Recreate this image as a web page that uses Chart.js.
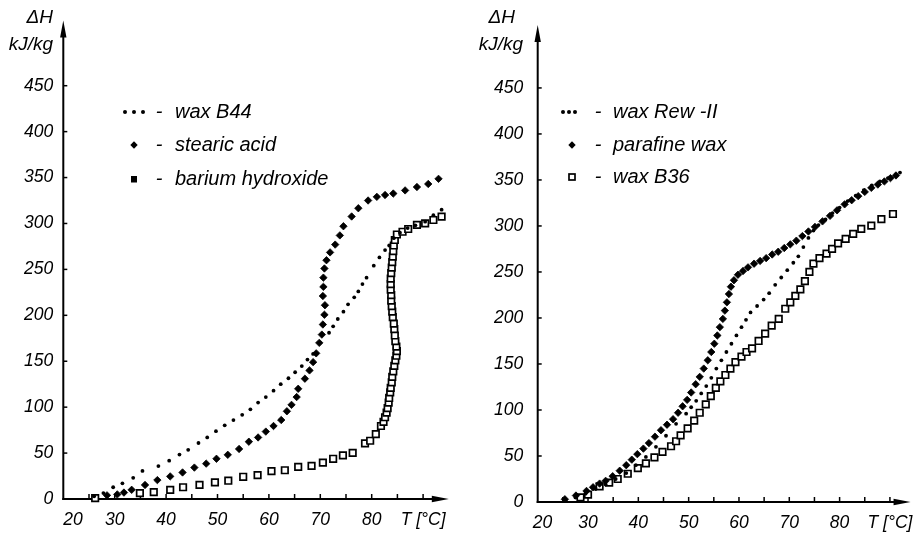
<!DOCTYPE html>
<html>
<head>
<meta charset="utf-8">
<title>Enthalpy of heat storage materials</title>
<script src="https://cdn.jsdelivr.net/npm/chart.js@4.4.1/dist/chart.umd.min.js"></script>
<style>
  html, body { margin: 0; padding: 0; background: #fff; }
  #wrap { position: relative; width: 924px; height: 536px; overflow: hidden; }
  .pane { position: absolute; top: 0; width: 462px; height: 536px; }
  canvas { display: block; }
</style>
</head>
<body>
<div id="wrap">
  <div class="pane" style="left:0"><canvas id="leftChart" width="462" height="536"></canvas></div>
  <div class="pane" style="left:462px"><canvas id="rightChart" width="462" height="536"></canvas></div>
</div>
<script>
// ---- axis text ----
const enthalpySymbol = 'ΔH';
const enthalpyUnit = 'kJ/kg';
const tempAxisTitle = 'T [°C]';
const tempLabelValues = [20, 30, 40, 50, 60, 70, 80];      // labelled temperatures
const enthalpyLabelValues = [0, 50, 100, 150, 200, 250, 300, 350, 400, 450];

// ---- left panel: [T in °C, ΔH in kJ/kg] ----
const leftNames = ['wax B44', 'stearic acid', 'barium hydroxide'];

const waxB44 = [
  [26.0, 3], [27.8, 6.4], [29.7, 12.8], [31.5, 17.1], [33.6, 23.1], [35.4, 30.6],
  [38.5, 35.9], [40.6, 41.7], [42.6, 48.4], [44.3, 53.5], [46.3, 61], [48.0, 67],
  [49.7, 73.8], [51.4, 80.2], [53.1, 85.9], [54.8, 91.6], [56.4, 97.6], [57.9, 105],
  [59.4, 111], [60.9, 118], [62.3, 125], [63.8, 131.5], [65.1, 138], [66.4, 144.7],
  [67.5, 151.8], [68.6, 158], [69.9, 170], [71.7, 181], [72.5, 188], [73.4, 196],
  [74.5, 204], [75.4, 212], [76.6, 219.6], [77.4, 226], [78.2, 234], [79.0, 241],
  [80.4, 254], [81.5, 263], [82.6, 271], [83.4, 276], [84.3, 284], [85.5, 290],
  [87.0, 295], [88.5, 298], [90.4, 302], [92.0, 309], [93.6, 315]
];

const stearicAcid = [
  [28.5, 4], [30.5, 5], [31.8, 7], [33.3, 10], [35.9, 15.3], [38.3, 20.6],
  [40.8, 24.6], [43.2, 28.9], [45.5, 34.2], [47.8, 38.5], [49.8, 43.8], [52.0, 48.1],
  [54.2, 54.5], [56.1, 62.4], [57.9, 67], [59.4, 73.4], [60.9, 79.5], [62.4, 86],
  [63.5, 95.5], [64.4, 102.5], [65.4, 111], [65.7, 120], [67.0, 131], [67.9, 140],
  [68.6, 149], [69.2, 158.6], [69.8, 170], [70.3, 179], [70.5, 190], [70.8, 200.6],
  [70.9, 211], [70.5, 221], [70.6, 231], [70.6, 241], [70.8, 251], [71.2, 260],
  [71.9, 268.5], [72.9, 277], [73.8, 287], [74.5, 297], [76.1, 307.6], [77.4, 316.6],
  [79.3, 325], [81.0, 329], [82.6, 331], [84.2, 332.6], [86.5, 336], [88.8, 339.7],
  [91.0, 343], [93.0, 348.6]
];

const bariumHydroxide = [
  [26.2, 1], [34.9, 6.4], [37.6, 7.5], [40.8, 10], [43.3, 12.8], [46.5, 15.3],
  [49.5, 18.2], [52.1, 19.9], [55.0, 24.2], [57.8, 26], [60.5, 30.3], [63.1, 31.3],
  [65.7, 34.9], [68.3, 36], [70.5, 39.5], [72.5, 43.8], [74.4, 47.4], [76.3, 50.3],
  [78.7, 60.6], [79.7, 63.4], [80.8, 70.6], [81.8, 79.5], [82.3, 84], [82.6, 89],
  [82.9, 94], [83.1, 99], [83.3, 105], [83.4, 110], [83.6, 116], [83.7, 121],
  [83.9, 127], [84.0, 133], [84.2, 139], [84.4, 145], [84.6, 151], [84.8, 156],
  [84.9, 161], [84.8, 166], [84.6, 172], [84.5, 178], [84.4, 185], [84.3, 191],
  [84.1, 198], [84.0, 204], [83.9, 210], [83.8, 216], [83.8, 222], [83.7, 228],
  [83.7, 234], [83.7, 240], [83.8, 246], [83.9, 252], [84.0, 258], [84.1, 264],
  [84.2, 270], [84.3, 276], [84.5, 282], [84.9, 288], [86.0, 291], [87.1, 294],
  [88.8, 298.5], [90.4, 300], [92.0, 303.8], [93.6, 307.4]
];

// ---- right panel: [T in °C, ΔH in kJ/kg] ----
const rightNames = ['wax Rew -II', 'parafine wax', 'wax B36'];

const waxRewII = [
  [25.5, 2], [27.5, 5], [29.5, 9], [31.5, 14], [33.5, 19], [35.5, 25], [37.6, 31.4],
  [39.5, 40], [41.5, 49], [43.5, 60], [45.5, 72], [47.5, 85], [49.5, 96], [50.5, 103],
  [51.5, 110], [52.5, 118], [53.5, 126], [54.5, 135], [55.5, 145], [56.5, 154],
  [57.5, 163], [58.5, 172], [59.5, 181], [60.5, 190], [61.4, 198], [62.3, 206],
  [63.6, 213], [64.9, 220], [66.0, 227], [67.2, 236], [68.4, 244], [69.6, 252],
  [70.8, 260], [71.8, 267], [72.8, 277], [73.8, 287], [74.8, 295], [75.8, 301],
  [77.2, 307], [78.6, 314], [80.0, 320], [81.6, 327], [83.2, 333], [84.8, 339],
  [86.4, 344], [88.0, 348.5], [89.6, 352], [91.2, 356], [92.0, 358]
];

const parafineWax = [
  [25.4, 3], [27.6, 7], [29.7, 12], [31.0, 16], [32.3, 20], [33.5, 23], [34.9, 28],
  [36.3, 34], [37.6, 40], [38.7, 46], [39.8, 52], [41.0, 58], [42.1, 64], [43.3, 71],
  [44.5, 78], [45.7, 84], [46.9, 90], [47.9, 97], [48.8, 104], [49.7, 111], [50.5, 119],
  [51.4, 128], [52.2, 136], [53.0, 145], [53.8, 154], [54.5, 163], [55.1, 172],
  [55.7, 181], [56.2, 190], [56.8, 199], [57.2, 208], [57.6, 217], [58.0, 226],
  [58.4, 234], [59.0, 241], [59.8, 247], [60.8, 251], [61.8, 255], [63.0, 259],
  [64.2, 262], [65.4, 265], [66.6, 269], [67.8, 272], [69.0, 276], [70.2, 280],
  [71.4, 284], [72.6, 289], [73.8, 294], [75.1, 299], [76.6, 305], [78.1, 311],
  [79.5, 317], [81.0, 323.5], [82.4, 328], [83.7, 332.4], [85.0, 337], [86.3, 341.4],
  [87.6, 345], [88.9, 348.4], [90.1, 352], [91.2, 354.9]
];

const waxB36 = [
  [28.5, 5], [30.0, 8], [32.3, 17], [34.2, 21], [35.9, 25], [37.9, 30.7], [39.9, 36.8],
  [41.5, 42], [43.2, 48.5], [44.8, 54.5], [46.5, 60.6], [47.5, 66], [48.4, 72.4],
  [49.8, 80], [51.1, 88.4], [52.2, 97], [53.4, 106], [54.4, 115], [55.4, 124],
  [56.3, 131], [57.3, 138], [58.3, 145], [59.3, 152], [60.5, 158], [61.5, 163],
  [62.6, 167], [63.9, 175], [65.2, 183], [66.5, 191.7], [67.9, 199], [69.2, 210],
  [70.2, 217], [71.2, 224], [72.2, 231], [73.1, 240], [74.0, 250], [74.8, 259],
  [76.0, 265], [77.4, 270], [78.5, 275], [79.7, 281], [81.2, 286], [82.7, 291.5],
  [84.3, 296.8], [86.3, 300.3], [88.3, 307.5], [90.6, 313]
];

// ---------------------------------------------------------------
const FONT = "'Liberation Sans', Arial, Helvetica, sans-serif";
Chart.defaults.font.family = FONT;
Chart.defaults.font.style = 'italic';
Chart.defaults.color = '#000';

const toPoints = pairs => pairs.map(([x, y]) => ({ x, y }));

// Marker styles per kind of sample
const markStyles = {
  dots:    { pointStyle: 'circle',  radius: 1.9, borderWidth: 0,   backgroundColor: '#000', borderColor: '#000' },
  diamond: { pointStyle: 'rectRot', radius: 3.7, borderWidth: 0.8, backgroundColor: '#000', borderColor: '#000' },
  square:  { pointStyle: 'rect',    radius: 4.6, borderWidth: 1.7, backgroundColor: '#fff', borderColor: '#000' }
};

function series(label, pairs, kind, legendMark) {
  const s = markStyles[kind];
  return {
    label,
    data: toPoints(pairs),
    showLine: false,
    clip: false,
    pointStyle: s.pointStyle,
    pointRadius: s.radius,
    pointBorderWidth: s.borderWidth,
    pointBackgroundColor: s.backgroundColor,
    pointBorderColor: s.borderColor,
    legendMark
  };
}

// Axes with arrow heads and short inward tick marks
const arrowAxes = {
  id: 'arrowAxes',
  beforeDatasetsDraw(chart) {
    const { ctx, chartArea: a, scales } = chart;
    const xs = scales.x, ys = scales.y;
    const ox = xs.getPixelForValue(xs.min);
    const oy = ys.getPixelForValue(0);
    ctx.save();
    ctx.strokeStyle = '#000';
    ctx.fillStyle = '#000';
    ctx.lineWidth = 2;
    ctx.beginPath();
    ctx.moveTo(ox, oy + 1);
    ctx.lineTo(ox, a.top + 10);
    ctx.stroke();
    ctx.beginPath();
    ctx.moveTo(ox, a.top);
    ctx.lineTo(ox - 3.2, a.top + 17);
    ctx.lineTo(ox + 3.2, a.top + 17);
    ctx.closePath();
    ctx.fill();

    ctx.beginPath();
    ctx.moveTo(ox - 1, oy);
    ctx.lineTo(a.right - 10, oy);
    ctx.stroke();
    ctx.beginPath();
    ctx.moveTo(a.right, oy);
    ctx.lineTo(a.right - 17, oy - 3.2);
    ctx.lineTo(a.right - 17, oy + 3.2);
    ctx.closePath();
    ctx.fill();

    ctx.lineWidth = 1.5;
    xs.ticks.forEach(t => {
      if (t.value <= xs.min || t.value > 90) return;
      const px = xs.getPixelForValue(t.value);
      ctx.beginPath();
      ctx.moveTo(px, oy);
      ctx.lineTo(px, oy - 5);
      ctx.stroke();
    });
    ys.ticks.forEach(t => {
      if (t.value <= 0 || t.value > 450) return;
      const py = ys.getPixelForValue(t.value);
      ctx.beginPath();
      ctx.moveTo(ox, py);
      ctx.lineTo(ox + 4, py);
      ctx.stroke();
    });
    ctx.restore();
  }
};

// Quantity and unit written above the tick labels of the vertical axis
const axisCaption = {
  id: 'axisCaption',
  afterDraw(chart, args, o) {
    const { ctx } = chart;
    ctx.save();
    ctx.fillStyle = '#000';
    ctx.textAlign = 'right';
    ctx.textBaseline = 'middle';
    ctx.font = `italic 19px ${FONT}`;
    ctx.fillText(enthalpySymbol, o.symbolX, o.symbolY);
    ctx.fillText(enthalpyUnit, o.unitX, o.unitY);
    ctx.restore();
  }
};

// Legend: marker, dash, sample name
const markLegend = {
  id: 'markLegend',
  afterDraw(chart, args, o) {
    const { ctx } = chart;
    ctx.save();
    ctx.fillStyle = '#000';
    ctx.strokeStyle = '#000';
    chart.data.datasets.forEach((ds, i) => {
      const y = o.rows[i];
      const m = ds.legendMark;
      if (m === 'dots') {
        o.dotXs.forEach(x => {
          ctx.beginPath();
          ctx.arc(x, y, 2, 0, Math.PI * 2);
          ctx.fill();
        });
      } else if (m === 'diamond') {
        const r = 3.7;
        ctx.beginPath();
        ctx.moveTo(o.markX, y - r);
        ctx.lineTo(o.markX + r, y);
        ctx.lineTo(o.markX, y + r);
        ctx.lineTo(o.markX - r, y);
        ctx.closePath();
        ctx.fill();
      } else if (m === 'filledSquare') {
        ctx.fillRect(o.markX - 3, y - 3, 6, 6.5);
      } else if (m === 'openSquare') {
        ctx.lineWidth = 1.7;
        ctx.strokeRect(o.markX - 3, y - 3, 6, 6);
      }
      ctx.font = `italic 20px ${FONT}`;
      ctx.textBaseline = 'middle';
      ctx.textAlign = 'center';
      ctx.fillText('-', o.dashX, y);
      ctx.textAlign = 'left';
      ctx.fillText(ds.label, o.textX, y);
    });
    ctx.restore();
  }
};

// The first temperature label is nudged right, clear of the vertical axis
function tempTicker(firstLabelLead) {
  return function (v) {
    if (v === 90) return tempAxisTitle;
    if (!tempLabelValues.includes(v)) return '';
    return v === tempLabelValues[0] ? firstLabelLead + String(v) : String(v);
  };
}
function enthalpyTick(v) {
  return enthalpyLabelValues.includes(v) ? String(v) : '';
}

function buildChart(canvasId, datasets, g) {
  return new Chart(document.getElementById(canvasId), {
    type: 'scatter',
    data: { datasets },
    plugins: [arrowAxes, axisCaption, markLegend],
    options: {
      responsive: false,
      animation: false,
      devicePixelRatio: 1,
      layout: { padding: { top: g.top, right: g.right, left: 0, bottom: 0 } },
      plugins: {
        legend: { display: false },
        tooltip: { enabled: false },
        axisCaption: g.caption,
        markLegend: g.legend
      },
      scales: {
        x: {
          type: 'linear',
          min: 20,
          max: g.xMax,
          grid: { display: false, drawTicks: false },
          border: { display: false },
          ticks: {
            stepSize: 5,
            includeBounds: false,
            autoSkip: false,
            maxRotation: 0,
            padding: g.xPad,
            font: { size: 17.5, style: 'italic' },
            callback: tempTicker(g.firstLead)
          },
          afterFit(s) { s.height = g.xHeight; }
        },
        y: {
          type: 'linear',
          min: 0,
          max: g.yMax,
          grid: { display: false, drawTicks: false },
          border: { display: false },
          ticks: {
            stepSize: 50,
            includeBounds: false,
            autoSkip: false,
            padding: g.yPad,
            font: { size: 17.5, style: 'italic' },
            callback: enthalpyTick
          },
          afterFit(s) { s.width = g.yWidth; }
        }
      }
    }
  });
}

buildChart('leftChart', [
  series(leftNames[0], waxB44, 'dots', 'dots'),
  series(leftNames[1], stearicAcid, 'diamond', 'diamond'),
  series(leftNames[2], bariumHydroxide, 'square', 'filledSquare')
], {
  top: 15, right: 13.2, xMax: 95, yMax: 521,
  xHeight: 37, yWidth: 63.3, xPad: 11, yPad: 10,
  firstLead: '\u2007\u2007',
  caption: { symbolX: 53, symbolY: 18, unitX: 53, unitY: 45 },
  legend: { rows: [112, 145, 179], dotXs: [125, 134, 143], markX: 134, dashX: 159, textX: 175 }
});

buildChart('rightChart', [
  series(rightNames[0], waxRewII, 'dots', 'dots'),
  series(rightNames[1], parafineWax, 'diamond', 'diamond'),
  series(rightNames[2], waxB36, 'square', 'openSquare')
], {
  top: 17, right: 11.2, xMax: 94.1, yMax: 518.4,
  xHeight: 34, yWidth: 75.7, xPad: 11, yPad: 14.5,
  firstLead: '\u2007',
  caption: { symbolX: 53, symbolY: 18, unitX: 61, unitY: 45 },
  legend: { rows: [112, 145, 177], dotXs: [101, 107, 113], markX: 110, dashX: 136, textX: 151 }
});
</script>
</body>
</html>
